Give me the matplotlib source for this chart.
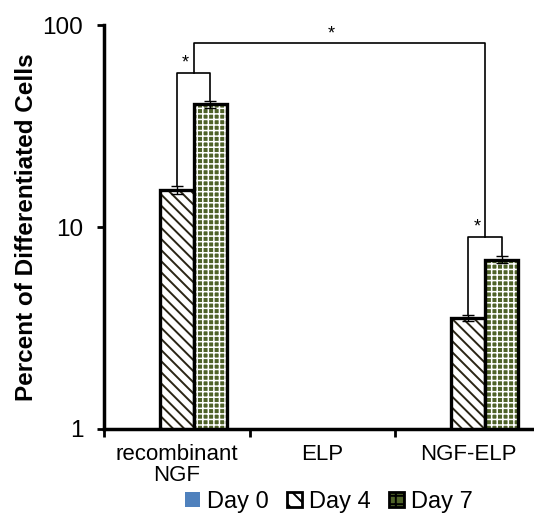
import numpy as np
import matplotlib.pyplot as plt
from matplotlib.patches import Patch

plt.rcParams['font.family'] = ['Liberation Sans', 'DejaVu Sans']
plt.rcParams['hatch.linewidth'] = 1.4

# данные
groups = ["recombinant\nNGF", "ELP", "NGF-ELP"]
day0 = [0, 0, 0]
day4 = [15.2, 0, 3.55]
day7 = [40.5, 0, 6.9]
err4 = [0.7, 0, 0.12]
err7 = [1.5, 0, 0.25]
# скобки значимости: (группа, уровень)
sig_pairs = [(0, 57.8), (2, 8.9)]
sig_top = 81.5

x = np.arange(len(groups))
w = 0.23

def nz(v):
    v = np.array(v, dtype=float)
    return np.where(v > 0, v, np.nan)

fig = plt.figure(figsize=(5.34, 5.13), dpi=100)
ax = fig.add_axes([0.195, 0.164, 0.818, 0.787])
ax.set_yscale('log')

ax.bar(x - w, nz(day0), w, color='#4f81bd', edgecolor='black', linewidth=2.2)
# Day 4 - штриховка
ax.bar(x, nz(day4), w, color='white', edgecolor='#2a2515', hatch='\\\\\\', linewidth=0)
ax.bar(x, nz(day4), w, color='none', edgecolor='black', linewidth=2.4)
# Day 7 - клетка
b7 = ax.bar(x + w, nz(day7), w, color='#4f6228', edgecolor='white', hatch='+++', linewidth=0)
for p in b7:
    if hasattr(p, 'set_hatch_linewidth'):
        p.set_hatch_linewidth(1.1)
ax.bar(x + w, nz(day7), w, color='none', edgecolor='black', linewidth=2.4)

ax.errorbar(x, nz(day4), yerr=err4, fmt='none', ecolor='black', elinewidth=1, capsize=4)
ax.errorbar(x + w, nz(day7), yerr=err7, fmt='none', ecolor='black', elinewidth=1, capsize=4)

# скобки
lw = 1.2
for g, lev in sig_pairs:
    ax.plot([g, g, g + w, g + w], [day4[g] + err4[g], lev, lev, day7[g] + err7[g]],
            color='black', lw=lw)
    ax.text(g + w / 2 - 0.055, lev * 1.02, '*', ha='center', va='bottom', fontsize=13)
m0 = sig_pairs[0][0] + w / 2
m1 = sig_pairs[1][0] + w / 2
ax.plot([m0, m0, m1, m1], [sig_pairs[0][1], sig_top, sig_top, sig_pairs[1][1]],
        color='black', lw=lw)
ax.text((m0 + m1) / 2 - 0.055, sig_top * 1.01, '*', ha='center', va='bottom', fontsize=13)

ax.set_ylim(1, 100)
ax.set_xlim(-0.5, 2.5)
ax.set_yticks([1, 10, 100])
ax.set_yticklabels(['1', '10', '100'])
ax.yaxis.set_minor_locator(plt.NullLocator())
ax.tick_params(axis='y', labelsize=17.5, width=2, length=5, direction='out', pad=10)

ax.set_xticks([-0.5, 0.5, 1.5, 2.5])
ax.set_xticklabels([])
ax.set_xticks(x, minor=True)
ax.set_xticklabels(groups, minor=True, fontsize=16, linespacing=1.0)
ax.tick_params(axis='x', which='major', width=2, length=6, direction='out')
ax.tick_params(axis='x', which='minor', length=0, pad=11)

ax.set_ylabel('Percent of Differentiated Cells', fontsize=17.5, fontweight='bold', labelpad=3)

for s in ['top', 'right']:
    ax.spines[s].set_visible(False)
for s in ['left', 'bottom']:
    ax.spines[s].set_linewidth(2.5)

handles = [Patch(facecolor='#4f81bd', edgecolor='none'),
           Patch(facecolor='white', edgecolor='black', hatch='\\\\', linewidth=2),
           Patch(facecolor='#4f6228', edgecolor='black', hatch='++', linewidth=2)]
fig.legend(handles, ['Day 0', 'Day 4', 'Day 7'], loc='center', bbox_to_anchor=(0.616, 0.022),
           ncol=3, frameon=False, fontsize=17, handlelength=0.65, handleheight=0.65,
           handletextpad=0.3, columnspacing=0.75)

plt.savefig('out.png', dpi=100)
